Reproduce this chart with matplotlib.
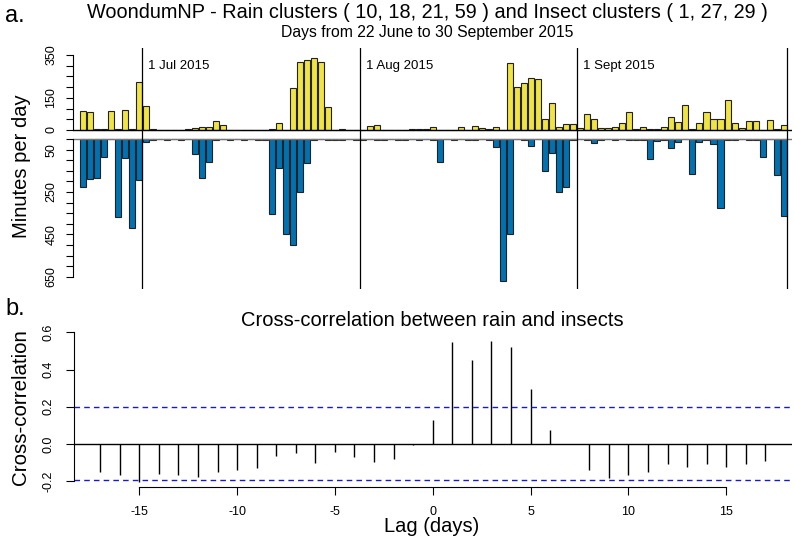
import numpy as np
import pandas as pd
import matplotlib
matplotlib.use("Agg")
import matplotlib.pyplot as plt

plt.rcParams['font.family'] = ['Liberation Sans', 'DejaVu Sans']
plt.rcParams['axes.unicode_minus'] = False

# -----------------------------
# data
# -----------------------------
dates = pd.date_range("2015-06-22", "2015-09-30", freq="D")
month_starts = ["2015-07-01", "2015-08-01", "2015-09-01"]
month_labels = ["1 Jul 2015", "1 Aug 2015", "1 Sept 2015"]

# minutes per day, rain clusters (yellow, upward)
rain = [90, 82, 5, 5, 90, 3, 93, 3, 224, 110,
        3, 2, 2, 0, 2, 5, 8, 12, 12, 44,
        22, 0, 2, 2, 2, 0, 0, 3, 31, 0,
        194, 319, 327, 334, 316, 109, 0, 5, 2, 2,
        2, 19, 25, 0, 0, 0, 2, 3, 3, 3,
        14, 1, 2, 0, 12, 2, 20, 11, 3, 16,
        0, 311, 202, 218, 244, 236, 50, 128, 12, 28,
        28, 11, 75, 50, 8, 8, 12, 34, 82, 3,
        12, 5, 5, 12, 62, 36, 117, 3, 31, 86,
        53, 50, 140, 34, 8, 40, 40, 0, 48, 3,
        22]

# minutes per day, insect clusters (blue, downward)
insects = [225, 190, 183, 83, 0, 370, 91, 422, 194, 15,
           3, 0, 3, 0, 3, 0, 71, 186, 107, 3,
           0, 3, 0, 3, 0, 3, 3, 356, 135, 450,
           502, 250, 112, 3, 0, 3, 3, 3, 0, 3,
           3, 0, 3, 3, 0, 3, 3, 0, 3, 0,
           3, 110, 0, 3, 0, 3, 3, 0, 3, 36,
           670, 448, 0, 3, 31, 0, 151, 66, 249, 228,
           3, 0, 3, 20, 3, 0, 3, 0, 3, 3,
           3, 94, 8, 3, 44, 16, 0, 167, 15, 3,
           25, 324, 3, 3, 0, 3, 3, 87, 0, 170,
           362]

# cross-correlation between rain and insects
lags = np.arange(-17, 18)
ccf = [-0.151, -0.170, -0.203, -0.163, -0.170, -0.176, -0.149, -0.142, -0.131,
       -0.065, -0.050, -0.104, -0.043, -0.068, -0.100, -0.084, -0.005,
       0.129, 0.550, 0.452, 0.556, 0.520, 0.297, 0.075, -0.003,
       -0.140, -0.185, -0.167, -0.149, -0.109, -0.122, -0.109, -0.122, -0.108, -0.090]
ci = 0.197

yellow = "#F0E442"
blue = "#0072B2"
edge = "#222222"

W, H = 794, 546
fig = plt.figure(figsize=(W / 100, H / 100), dpi=100)


def box(x0, y0, x1, y1):
    # pixel box (top-left origin) -> figure fraction rect
    return [x0 / W, 1 - y1 / H, (x1 - x0) / W, (y1 - y0) / H]


days = np.arange(len(dates))
line_pos = [(dates.get_loc(pd.Timestamp(d))) - 0.5 for d in month_starts] + [len(dates) - 0.5]
xlim_top = (-1.43, 101.2)

# -----------------------------
# panel a: rain up, insects down
# -----------------------------
ax_top = fig.add_axes(box(72.7, 48, 792, 134))
ax_bot = fig.add_axes(box(72.7, 134, 792, 289))

ax_top.bar(days, rain, width=0.86, color=yellow, edgecolor=edge, linewidth=0.8)
ax_top.set_ylim(-18.7, 382.6)
ax_top.axhline(0, color="black", lw=1.0)

ax_bot.bar(days, insects, width=0.86, color=blue, edgecolor=edge, linewidth=0.8)
ax_bot.set_ylim(708, -23.6)
ax_bot.axhline(0, color="#777777", lw=1.0)

for ax in (ax_top, ax_bot):
    ax.set_xlim(*xlim_top)
    for x in line_pos:
        ax.axvline(x, color="black", lw=0.9)
    for s in ("top", "right", "bottom"):
        ax.spines[s].set_visible(False)
    ax.set_xticks([])
    ax.tick_params(axis="y", direction="out", length=5, width=0.8, pad=6, labelsize=9)
    ax.set_facecolor("none")

ax_top.spines["left"].set_bounds(0, 350)
ax_top.set_yticks(np.arange(0, 351, 50))
ax_top.set_yticklabels(["0", "", "", "150", "", "", "", "350"], rotation=90, va="center")

ax_bot.spines["left"].set_bounds(0, 650)
ax_bot.set_yticks(np.arange(0, 651, 50))
ax_bot.set_yticklabels([str(v) if v in (50, 250, 450, 650) else "" for v in range(0, 651, 50)],
                       rotation=90, va="center")

for x, lab in zip(line_pos, month_labels):
    ax_top.text(x + 0.85, 300, lab, ha="left", va="center", fontsize=9.5)

fig.text(5 / W, 1 - 16 / H, "a.", fontsize=17, ha="left", va="center")
fig.text(427 / W, 1 - 13 / H,
         "WoondumNP - Rain clusters ( 10, 18, 21, 59 ) and Insect clusters ( 1, 27, 29 )",
         fontsize=14.3, ha="center", va="center")
fig.text(427 / W, 1 - 33 / H, "Days from 22 June to 30 September 2015",
         fontsize=11.3, ha="center", va="center")
fig.text(22 / W, 1 - 166 / H, "Minutes per day", fontsize=14.5, rotation=90,
         ha="center", va="center")

# -----------------------------
# panel b: cross-correlation
# -----------------------------
ax_c = fig.add_axes(box(73.5, 326.4, 792, 487))
ax_c.vlines(lags, 0, ccf, color="black", lw=1.0)
ax_c.axhline(0, color="black", lw=1.0)
ax_c.axhline(ci, color="#1a1acc", lw=1.0, ls=(0, (4, 3)))
ax_c.axhline(-ci, color="#1a1acc", lw=1.0, ls=(0, (4, 3)))
ax_c.set_xlim(-18.36, 18.36)
ax_c.set_ylim(-0.232, 0.632)
for s in ("top", "right"):
    ax_c.spines[s].set_visible(False)
ax_c.spines["left"].set_bounds(-0.2, 0.6)
ax_c.spines["bottom"].set_bounds(-15, 15)
ax_c.set_xticks(np.arange(-15, 16, 5))
ax_c.set_yticks(np.arange(-0.2, 0.61, 0.2))
ax_c.set_yticklabels(["-0.2", "0.0", "0.2", "0.4", "0.6"], rotation=90, va="center")
ax_c.tick_params(direction="out", length=5.5, width=0.8, pad=8, labelsize=9)
ax_c.set_facecolor("none")

fig.text(5 / W, 1 - 309 / H, "b.", fontsize=17, ha="left", va="center")
fig.text(432 / W, 1 - 320 / H, "Cross-correlation between rain and insects",
         fontsize=14.5, ha="center", va="center")
fig.text(432 / W, 1 - 527 / H, "Lag (days)", fontsize=14.5, ha="center", va="center")
fig.text(21 / W, 1 - 407 / H, "Cross-correlation", fontsize=14.8, rotation=90,
         ha="center", va="center")

fig.savefig("out.png", dpi=100)
